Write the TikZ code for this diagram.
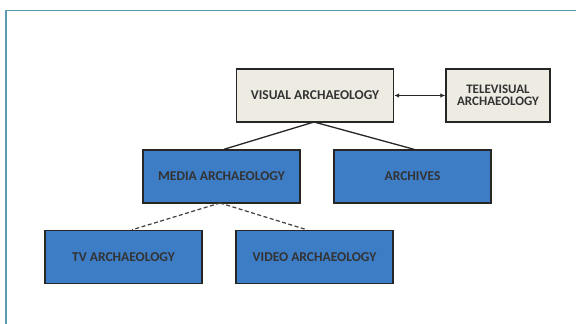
\documentclass[tikz,border=0pt]{standalone}
\usepackage{fontspec}
\setmainfont{Carlito}
\usetikzlibrary{arrows.meta}
\definecolor{frameteal}{HTML}{5A9BB0}
\definecolor{boxblue}{HTML}{3D7DC6}
\definecolor{boxbeige}{HTML}{EEEBE3}
\tikzset{
  basebox/.style={draw=black!85, line width=1.4pt, minimum width=157pt, minimum height=53pt, inner sep=0pt, align=center, font=\fontsize{13.5}{14}\selectfont\bfseries, text=black!80},
  bluebox/.style={basebox, fill=boxblue},
  beigebox/.style={basebox, fill=boxbeige},
  link/.style={line width=1.3pt, draw=black!85},
  dlink/.style={line width=1.2pt, draw=black!75, dashed, dash pattern=on 4pt off 2.5pt},
  dblarrow/.style={line width=0.9pt, draw=black!85, {Latex[length=5pt,width=4.5pt]}-{Latex[length=5pt,width=4.5pt]}}
}
\begin{document}
\begin{tikzpicture}[x=1pt,y=-1pt]
\useasboundingbox (0,0) rectangle (576,324);
\fill[white] (0,0) rectangle (576,324);
\draw[frameteal, line width=1.4pt] (6,324) -- (6,10.5) -- (576,10.5);
\node[beigebox] (visual) at (315,95.5) {VISUAL ARCHAEOLOGY};
\node[beigebox, minimum width=104pt, font=\fontsize{13}{13.5}\selectfont\bfseries] (tele) at (498,95.5) {TELEVISUAL\\[-1pt]ARCHAEOLOGY};
\node[bluebox] (media) at (221.5,176.5) {MEDIA ARCHAEOLOGY};
\node[bluebox] (arch) at (412.5,176.5) {ARCHIVES};
\node[bluebox] (tv) at (123.5,257) {TV ARCHAEOLOGY};
\node[bluebox] (video) at (314.5,257) {VIDEO ARCHAEOLOGY};
\draw[dblarrow] (visual.east) -- (tele.west);
\coordinate (vb) at (314,122);
\draw[link] (vb) -- (media.north -| 224,0);
\draw[link] (vb) -- (arch.north -| 414,0);
\coordinate (mb) at (220,203);
\draw[dlink] (mb) -- (tv.north -| 132,0);
\draw[dlink] (mb) -- (video.north -| 307,0);
\end{tikzpicture}
\end{document}
